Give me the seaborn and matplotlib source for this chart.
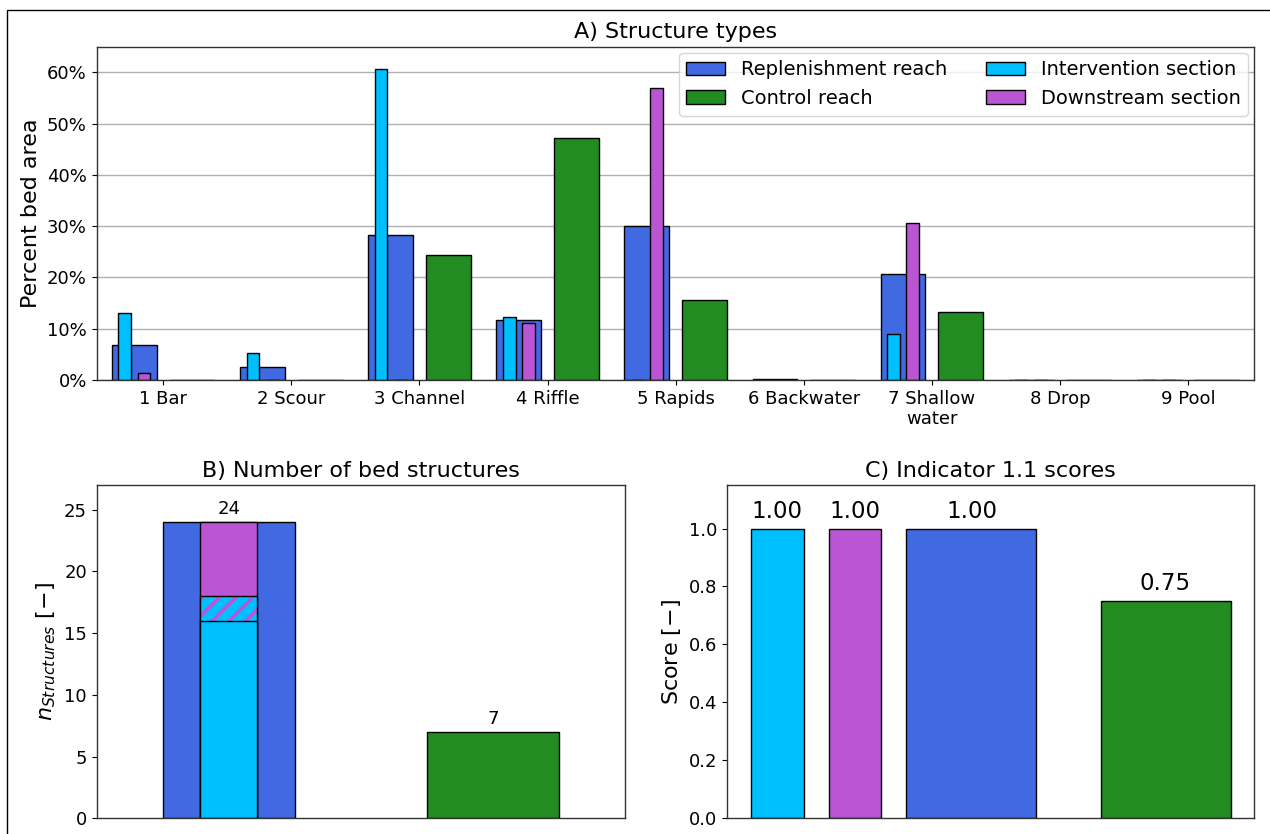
import numpy as np
import matplotlib
matplotlib.use("Agg")
import matplotlib.pyplot as plt
import seaborn as sns
from matplotlib.patches import Patch, Rectangle
from matplotlib.ticker import PercentFormatter, FormatStrFormatter

# ---------------- data ----------------
structures = ["1 Bar", "2 Scour", "3 Channel", "4 Riffle", "5 Rapids",
              "6 Backwater", "7 Shallow\nwater", "8 Drop", "9 Pool"]
replenishment_pct = [6.9, 2.5, 28.3, 11.6, 30.1, 0.2, 20.6, 0.0, 0.0]
intervention_pct = [13.1, 5.3, 60.6, 12.3, 0.0, 0.0, 8.9, 0.0, 0.0]
downstream_pct = [1.4, 0.0, 0.0, 11.2, 57.0, 0.0, 30.6, 0.0, 0.0]
control_pct = [0.0, 0.0, 24.4, 47.1, 15.5, 0.0, 13.2, 0.0, 0.0]

n_replenishment = 24
n_intervention_only = 16
n_shared = 2
n_downstream_only = 6
n_control = 7

score_groups = ["Intervention section", "Downstream section",
                "Replenishment reach", "Control reach"]
scores = [1.00, 1.00, 1.00, 0.75]

# ---------------- style ----------------
sns.set_style("ticks")
plt.rcParams["font.family"] = ["DejaVu Sans"]
plt.rcParams["hatch.linewidth"] = 2.5
for key in ("text.color", "axes.labelcolor", "xtick.color", "ytick.color"):
    plt.rcParams[key] = "black"

C_REP = "royalblue"
C_INT = "deepskyblue"
C_DOWN = "mediumorchid"
C_CTRL = "forestgreen"
EDGE = "black"

TICK_FS = 13
LABEL_FS = 16
TITLE_FS = 16

fig = plt.figure(figsize=(12.7, 8.34), dpi=100)
axA = fig.add_axes([0.0761, 0.5444, 0.9113, 0.3996])
axB = fig.add_axes([0.0761, 0.0188, 0.4160, 0.3996])
axC = fig.add_axes([0.5724, 0.0188, 0.4150, 0.3996])

bar_kw = dict(native_scale=True, saturation=1, edgecolor=EDGE,
              linewidth=1, errorbar=None)

# ---------------- panel A ----------------
xpos = np.arange(len(structures))
series = [
    (replenishment_pct, -0.225, 0.35, C_REP),
    (control_pct, 0.225, 0.35, C_CTRL),
    (intervention_pct, -0.30, 0.10, C_INT),
    (downstream_pct, -0.15, 0.10, C_DOWN),
]
for vals, off, w, col in series:
    sns.barplot(x=xpos + off, y=vals, width=w, color=col, ax=axA, **bar_kw)

axA.set_xlim(-0.52, 8.515)
axA.set_ylim(0, 65)
axA.set_xticks(xpos)
axA.set_xticklabels(structures, fontsize=TICK_FS)
axA.set_yticks(np.arange(0, 61, 10))
axA.yaxis.set_major_formatter(PercentFormatter(decimals=0))
axA.tick_params(axis="y", labelsize=TICK_FS)
axA.yaxis.grid(True, color="#b0b0b0", linewidth=1)
axA.set_axisbelow(True)
axA.set_xlabel("")
axA.set_ylabel("Percent bed area", fontsize=LABEL_FS)
axA.set_title("A) Structure types", fontsize=TITLE_FS, pad=6)

handles = [
    Patch(facecolor=C_REP, edgecolor=EDGE, label="Replenishment reach"),
    Patch(facecolor=C_CTRL, edgecolor=EDGE, label="Control reach"),
    Patch(facecolor=C_INT, edgecolor=EDGE, label="Intervention section"),
    Patch(facecolor=C_DOWN, edgecolor=EDGE, label="Downstream section"),
]
axA.legend(handles=handles, ncol=2, loc="upper right", fontsize=14,
           frameon=True, framealpha=0.8, edgecolor="#cccccc",
           borderaxespad=0.3, columnspacing=2.0, handlelength=2.0)

# ---------------- panel B ----------------
n_total_sections = n_intervention_only + n_shared + n_downstream_only
sns.barplot(x=[0], y=[n_replenishment], width=0.5, color=C_REP, ax=axB, **bar_kw)
sns.barplot(x=[0], y=[n_total_sections], width=0.215, color=C_DOWN, ax=axB, **bar_kw)
sns.barplot(x=[0], y=[n_intervention_only + n_shared], width=0.215, color=C_INT,
            hatch="//", ax=axB, native_scale=True, saturation=1,
            edgecolor=C_DOWN, linewidth=0, errorbar=None)
sns.barplot(x=[0], y=[n_intervention_only + n_shared], width=0.215, color=EDGE,
            fill=False, ax=axB, native_scale=True, linewidth=1, errorbar=None)
sns.barplot(x=[0], y=[n_intervention_only], width=0.215, color=C_INT, ax=axB, **bar_kw)
sns.barplot(x=[1], y=[n_control], width=0.5, color=C_CTRL, ax=axB, **bar_kw)

for xv, yv in [(0, n_replenishment), (1, n_control)]:
    axB.annotate(f"{yv}", (xv, yv), xytext=(0, 3), textcoords="offset points",
                 ha="center", va="bottom", fontsize=13)

axB.set_xlim(-0.5, 1.5)
axB.set_ylim(0, 27)
axB.set_xticks([])
axB.set_yticks(np.arange(0, 26, 5))
axB.tick_params(axis="y", labelsize=TICK_FS)
axB.set_xlabel("")
axB.set_ylabel(r"$n_{Structures}$ [$-$]", fontsize=LABEL_FS)
axB.set_title("B) Number of bed structures", fontsize=TITLE_FS, pad=6)

# ---------------- panel C ----------------
c_pos = [-1.0, -0.6, 0.0, 1.0]
c_width = [0.27, 0.27, 0.67, 0.67]
c_colors = [C_INT, C_DOWN, C_REP, C_CTRL]
for xp, w, col, sc in zip(c_pos, c_width, c_colors, scores):
    sns.barplot(x=[xp], y=[sc], width=w, color=col, ax=axC, **bar_kw)
    axC.annotate(f"{sc:.2f}", (xp, sc), xytext=(0, 4), textcoords="offset points",
                 ha="center", va="bottom", fontsize=16.5)

axC.set_xlim(-1.26, 1.456)
axC.set_ylim(0, 1.15)
axC.set_xticks([])
axC.set_yticks(np.arange(0, 1.01, 0.2))
axC.yaxis.set_major_formatter(FormatStrFormatter("%.1f"))
axC.tick_params(axis="y", labelsize=TICK_FS)
axC.set_xlabel("")
axC.set_ylabel(r"Score [$-$]", fontsize=LABEL_FS)
axC.set_title("C) Indicator 1.1 scores", fontsize=TITLE_FS, pad=6)

for ax in (axA, axB, axC):
    for sp in ax.spines.values():
        sp.set_visible(True)
        sp.set_linewidth(1)
        sp.set_color("#333333")

# figure frame (top and left edges visible)
fig.add_artist(Rectangle((7 / 1270, -0.2), 1.2, (834 - 10) / 834 + 0.2,
                         transform=fig.transFigure, fill=False,
                         edgecolor="black", linewidth=1))

fig.savefig("out.png", dpi=100)
